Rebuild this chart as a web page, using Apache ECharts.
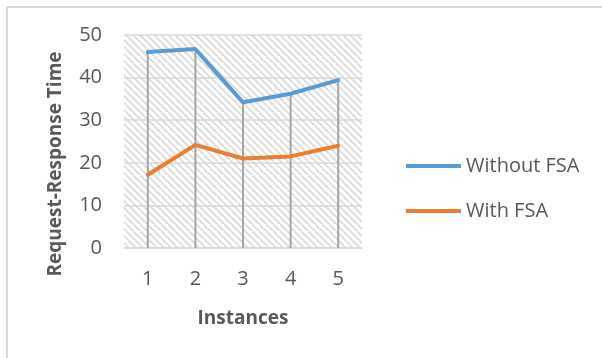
<!DOCTYPE html>
<html>
<head>
<meta charset="utf-8">
<script src="https://cdn.jsdelivr.net/npm/echarts@6/dist/echarts.min.js"></script>
<style>
  html, body { margin: 0; padding: 0; background: #ffffff; }
  #chart { width: 602px; height: 358px; }
</style>
</head>
<body>
<div id="chart"></div>
<script>
// Category labels and the two measured series
const instances = ['1', '2', '3', '4', '5'];
const withoutFSA = [46.0, 46.7, 34.2, 36.2, 39.4];
const withFSA = [17.2, 24.2, 21.0, 21.5, 24.0];
const yTicks = { min: 0, max: 50, step: 10 };
const yTitle = 'Request-Response Time';
const xTitle = 'Instances';

// Drop lines run from the higher of the two series down to the axis
const dropTops = instances.map((_, i) => Math.max(withoutFSA[i], withFSA[i]));

// Diagonal hatch fill for the plot area
function makeHatch() {
  const s = 7;
  const c = document.createElement('canvas');
  c.width = s; c.height = s;
  const g = c.getContext('2d');
  g.fillStyle = '#ffffff';
  g.fillRect(0, 0, s, s);
  g.strokeStyle = '#dadada';
  g.lineWidth = 1.7;
  g.beginPath();
  g.moveTo(-1, -1); g.lineTo(s + 1, s + 1);
  g.moveTo(-s - 1, -1); g.lineTo(1, s + 1);
  g.moveTo(s - 1, -s - 1); g.lineTo(2 * s + 1, s + 1);
  g.stroke();
  return c;
}

const font = '"Open Sans", sans-serif';
const textGrey = '#595959';
const chart = echarts.init(document.getElementById('chart'), null, { renderer: 'canvas' });

chart.setOption({
  backgroundColor: '#ffffff',
  animation: false,
  textStyle: { fontFamily: font },
  graphic: [
    { type: 'line', shape: { x1: 7, y1: 7, x2: 602, y2: 7 }, style: { stroke: '#d9d9d9', lineWidth: 2 } },
    { type: 'line', shape: { x1: 7, y1: 7, x2: 7, y2: 358 }, style: { stroke: '#d9d9d9', lineWidth: 2 } },
    {
      type: 'text',
      x: 56, y: 164,
      rotation: Math.PI / 2,
      style: {
        text: yTitle,
        fontFamily: font, fontSize: 19, fontWeight: 'bold',
        fill: textGrey, align: 'center', verticalAlign: 'middle'
      }
    }
  ],
  grid: {
    left: 124, right: 240, top: 35, bottom: 110,
    show: true,
    borderWidth: 0,
    backgroundColor: { image: makeHatch(), repeat: 'repeat' }
  },
  legend: {
    orient: 'vertical',
    left: 401,
    top: 151,
    itemWidth: 55,
    itemHeight: 4,
    itemGap: 25,
    icon: 'rect',
    data: ['Without FSA', 'With FSA'],
    textStyle: { fontFamily: font, fontSize: 20, color: textGrey }
  },
  xAxis: {
    type: 'category',
    data: instances,
    boundaryGap: true,
    axisLine: { show: true, lineStyle: { color: '#d9d9d9', width: 1.5 } },
    axisTick: { show: false },
    splitLine: { show: false },
    axisLabel: { fontSize: 20, color: textGrey, margin: 21, fontFamily: font },
    name: xTitle,
    nameLocation: 'middle',
    nameGap: 61,
    nameTextStyle: { fontSize: 19, fontWeight: 'bold', color: textGrey, fontFamily: font }
  },
  yAxis: {
    type: 'value',
    min: yTicks.min,
    max: yTicks.max,
    interval: yTicks.step,
    axisLine: { show: false },
    axisTick: { show: false },
    splitLine: { show: true, lineStyle: { color: '#d9d9d9', width: 1.5 } },
    axisLabel: { fontSize: 20, color: textGrey, margin: 22, fontFamily: font }
  },
  series: [
    {
      name: 'drop',
      type: 'bar',
      data: dropTops,
      barWidth: 2,
      itemStyle: { color: '#a5a5a5' },
      silent: true,
      z: 1
    },
    {
      name: 'Without FSA',
      type: 'line',
      data: withoutFSA,
      symbol: 'none',
      lineStyle: { color: '#5b9bd5', width: 4, cap: 'round' },
      itemStyle: { color: '#5b9bd5' },
      z: 3
    },
    {
      name: 'With FSA',
      type: 'line',
      data: withFSA,
      symbol: 'none',
      lineStyle: { color: '#ed7d31', width: 4, cap: 'round' },
      itemStyle: { color: '#ed7d31' },
      z: 3
    }
  ]
});
</script>
</body>
</html>
